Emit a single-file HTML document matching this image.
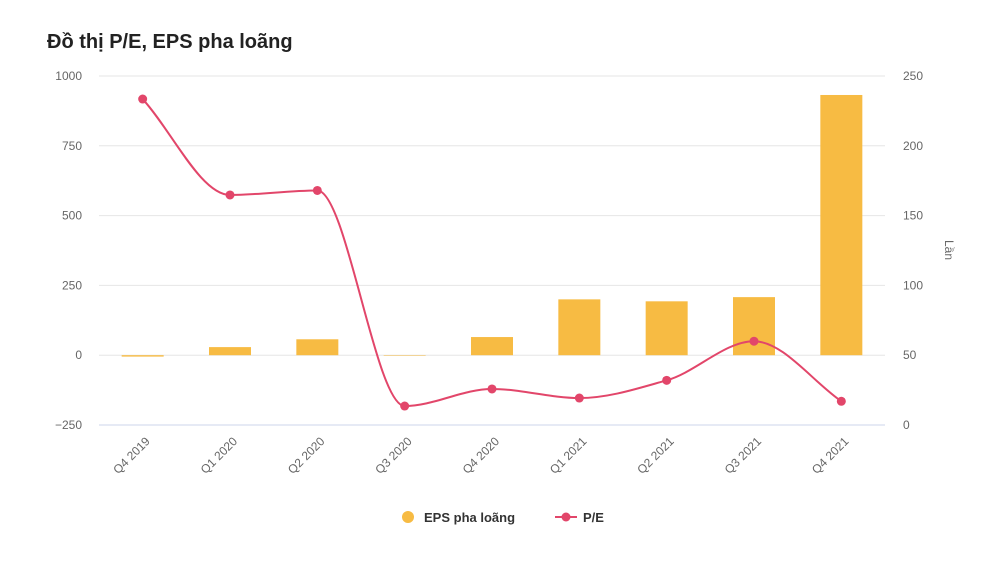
<!DOCTYPE html>
<html><head><meta charset="utf-8"><style>
body{margin:0;background:#fff;width:990px;height:565px;overflow:hidden;font-family:"Liberation Sans",sans-serif}
</style></head><body>
<svg id="c" width="990" height="565">
<text x="47" y="48" font-size="20" font-weight="bold" fill="#222">Đồ thị P/E, EPS pha loãng</text>
</svg>
<script>
const categories=["Q4 2019","Q1 2020","Q2 2020","Q3 2020","Q4 2020","Q1 2021","Q2 2021","Q3 2021","Q4 2021"];
const epsValues=[-5,29,57,0,65,200,193,208,932];
const peValues=[233.5,164.8,168,13.6,25.8,19.3,32,60,17];
const leftTicks=[-250,0,250,500,750,1000];
const rightTicks=[0,50,100,150,200,250];
const svg=document.getElementById('c');const NS='http://www.w3.org/2000/svg';
const X0=99,X1=885,YT=76,YB=425;
const yL=v=>YB-(v+250)/1250*(YB-YT);
const yR=v=>YB-v/250*(YB-YT);
const step=(X1-X0)/categories.length;
const xC=i=>X0+step*(i+0.5);
function mk(t,a,txt){const e=document.createElementNS(NS,t);for(const k in a)e.setAttribute(k,a[k]);if(txt!==undefined)e.textContent=txt;svg.appendChild(e);return e;}
leftTicks.forEach((v,i)=>{
 const g=mk('line',{x1:X0,x2:X1,y1:yL(v),y2:yL(v),stroke:i==0?'#ccd6eb':'#e6e6e6'});
 
 
 const t=mk('text',{x:82,y:yL(v)+4,'text-anchor':'end','font-size':12,fill:'#666'},v==-250?'−250':String(v));
 
 
});
rightTicks.forEach(v=>{
 const t=mk('text',{x:903,y:yR(v)+4,'font-size':12,fill:'#666'},String(v));
 
 
});
const at=mk('text',{x:945,y:250,'font-size':12,fill:'#666','text-anchor':'middle',transform:'rotate(90 945 250)'},'Lần');


categories.forEach((c,i)=>{
 const x=xC(i)+8,y=442;
 const t=mk('text',{x:x,y:y,'font-size':12,fill:'#666','text-anchor':'end',transform:`rotate(-45 ${x} ${y})`},c);
 
 
 const v=epsValues[i];const y0=yL(0),y1=yL(v);
 const b=mk('rect',{x:xC(i)-21,width:42,y:Math.min(y0,y1),height:Math.max(Math.abs(y1-y0),0.5),fill:'#f7bb43'});
 
 
});
// monotone cubic interpolation
const pts=peValues.map((v,i)=>[xC(i),yR(v)]);
const n=pts.length,sl=[],m=[];
for(let i=0;i<n-1;i++)sl.push((pts[i+1][1]-pts[i][1])/(pts[i+1][0]-pts[i][0]));
for(let i=0;i<n;i++){
 if(i==0)m.push(sl[0]);else if(i==n-1)m.push(sl[n-2]);
 else m.push(sl[i-1]*sl[i]<=0?0:2/(1/sl[i-1]+1/sl[i]));
}
let d=`M${pts[0][0]},${pts[0][1]}`;
for(let i=0;i<n-1;i++){
 const h=(pts[i+1][0]-pts[i][0])/3;
 d+=` C${pts[i][0]+h},${pts[i][1]+m[i]*h} ${pts[i+1][0]-h},${pts[i+1][1]-m[i+1]*h} ${pts[i+1][0]},${pts[i+1][1]}`;
}
const ln=mk('path',{d:d,fill:'none',stroke:'#e2466a','stroke-width':2});


pts.forEach(p=>{
 const c=mk('circle',{cx:p[0],cy:p[1],r:4.5,fill:'#e2466a'});
 
 
});
const l1=mk('circle',{cx:408,cy:517,r:6,fill:'#f7bb43'});


const l1t=mk('text',{x:424,y:522,'font-size':13,'font-weight':'bold',fill:'#333'},'EPS pha loãng');


const l2=mk('line',{x1:555,x2:577,y1:517,y2:517,stroke:'#e2466a','stroke-width':2});


const l2c=mk('circle',{cx:566,cy:517,r:4.5,fill:'#e2466a'});


const l2t=mk('text',{x:583,y:522,'font-size':13,'font-weight':'bold',fill:'#333'},'P/E');


</script>
</body></html>
